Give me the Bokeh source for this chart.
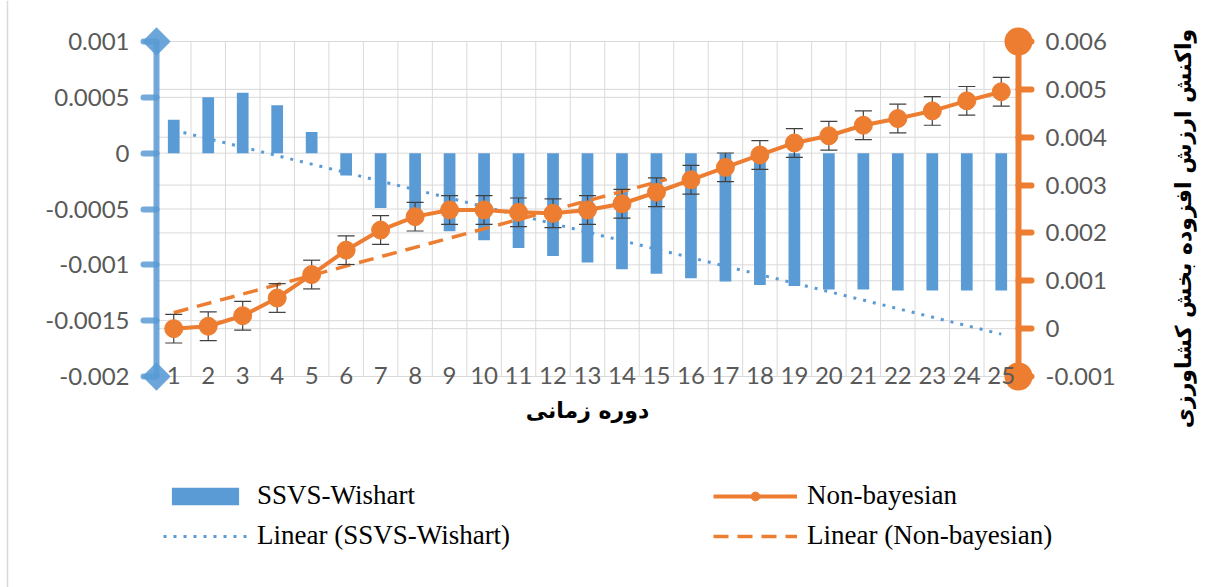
import numpy as np
from bokeh.plotting import figure
from bokeh.models import (Range1d, LinearAxis, FixedTicker, Label, Legend, LegendItem)
from bokeh.core.properties import value
from bokeh.embed import file_html
from bokeh.resources import INLINE

# ---------------- data ----------------
periods = list(range(1, 26))
period_labels = [str(i) for i in periods]

ssvs_wishart = [0.00030, 0.00050, 0.00054, 0.00043, 0.00019, -0.00020, -0.00049, -0.00060,
                -0.00070, -0.00078, -0.00085, -0.00092, -0.00098, -0.00104, -0.00108,
                -0.00112, -0.00115, -0.00118, -0.00119, -0.00122, -0.00122, -0.00123,
                -0.00123, -0.00123, -0.00123]

non_bayesian = [0.00000, 0.00005, 0.00027, 0.00064, 0.00113, 0.00164, 0.00206, 0.00234,
                0.00248, 0.00248, 0.00243, 0.00241, 0.00248, 0.00261, 0.00285, 0.00311,
                0.00337, 0.00363, 0.00388, 0.00403, 0.00425, 0.00439, 0.00455, 0.00476,
                0.00495]

non_bayesian_err = [0.0003, 0.0003, 0.0003, 0.0003, 0.0003, 0.0003, 0.0003, 0.0003,
                    0.0003, 0.0003, 0.0003, 0.0003, 0.0003, 0.0003, 0.0003, 0.0003,
                    0.0003, 0.0003, 0.0003, 0.0003, 0.0003, 0.0003, 0.0003, 0.0003,
                    0.0003]

left_ticks = [-0.002, -0.0015, -0.001, -0.0005, 0.0, 0.0005, 0.001]
left_tick_labels = ["-0.002", "-0.0015", "-0.001", "-0.0005", "0", "0.0005", "0.001"]
right_ticks = [-0.001, 0.0, 0.001, 0.002, 0.003, 0.004, 0.005, 0.006]
right_tick_labels = ["-0.001", "0", "0.001", "0.002", "0.003", "0.004", "0.005", "0.006"]

series_names = ["SSVS-Wishart", "Non-bayesian", "Linear (SSVS-Wishart)", "Linear (Non-bayesian)"]
x_title = "دوره زمانی"
y2_title = "واکنش ارزش افزوده بخش کشاورزی"

nb_trend_end = 15.3   # visible extent of the Non-bayesian trend line

# ---------------- layout (pixels) & style ----------------
W, H = 1227, 587
PL, PR, PT, PB = 156, 1018, 41, 376      # plot area edges
BLUE = "#5B9BD5"
ORANGE = "#ED7D31"
GRID = "#d9d9d9"
TXT = "#595959"

x0, x1 = periods[0] - 0.5, periods[-1] + 0.5
sx = (PR - PL) / (x1 - x0)
ly0, ly1 = left_ticks[0], left_ticks[-1]
sly = (PB - PT) / (ly1 - ly0)
ry0, ry1 = right_ticks[0], right_ticks[-1]
sry = (PB - PT) / (ry1 - ry0)

p = figure(width=W, height=H,
           x_range=Range1d(x0 - PL / sx, x1 + (W - PR) / sx),
           y_range=Range1d(ly0 - (H - PB) / sly, ly1 + PT / sly),
           x_axis_type=None, y_axis_type=None,
           output_backend="svg", toolbar_location=None,
           min_border=0, min_border_left=0, min_border_right=0,
           min_border_top=0, min_border_bottom=0)
p.extra_y_ranges = {"right": Range1d(ry0 - (H - PB) / sry, ry1 + PT / sry)}
p.outline_line_color = None
p.background_fill_color = "white"
p.border_fill_color = "white"
p.xgrid.visible = False
p.ygrid.visible = False

# outer left border of the chart
p.segment(x0=[x0 - (PL - 7) / sx], y0=[p.y_range.start], x1=[x0 - (PL - 7) / sx],
          y1=[p.y_range.end], line_color=GRID, line_width=1.5)

# gridlines
bounds = [x - 0.5 for x in periods] + [x1]
p.segment(x0=bounds, y0=[ly0] * len(bounds), x1=bounds, y1=[ly1] * len(bounds),
          line_color=GRID, line_width=1)
p.segment(x0=[x0] * len(left_ticks), y0=left_ticks, x1=[x1] * len(left_ticks), y1=left_ticks,
          line_color=GRID, line_width=1)
p.segment(x0=[x0] * len(right_ticks), y0=right_ticks, x1=[x1] * len(right_ticks),
          y1=right_ticks, line_color=GRID, line_width=1, y_range_name="right")

# axes
def style_axis(ax, color):
    ax.axis_line_color = color
    ax.axis_line_width = 6
    ax.major_tick_line_color = color
    ax.major_tick_line_width = 6
    ax.major_tick_line_cap = "round"
    ax.major_tick_out = 13
    ax.major_tick_in = 0
    ax.minor_tick_line_color = None
    ax.major_label_text_font = "Lato"
    ax.major_label_text_font_size = "24px"
    ax.major_label_text_color = TXT
    ax.major_label_standoff = 14

yl = LinearAxis(ticker=FixedTicker(ticks=left_ticks), fixed_location=x0, bounds=(ly0, ly1),
                major_label_overrides={t: s for t, s in zip(left_ticks, left_tick_labels)})
style_axis(yl, BLUE)
yl.axis_line_alpha = 0.85
yl.major_tick_line_alpha = 0.85
p.add_layout(yl, "left")

yr = LinearAxis(ticker=FixedTicker(ticks=right_ticks), y_range_name="right",
                fixed_location=x1, bounds=(ry0, ry1),
                major_label_overrides={t: s for t, s in zip(right_ticks, right_tick_labels)})
style_axis(yr, ORANGE)
p.add_layout(yr, "right")

# bars
r_bar = p.vbar(x=periods, top=ssvs_wishart, bottom=0, width=0.34,
               fill_color=BLUE, line_color=None)

# linear trend of SSVS-Wishart
c1 = np.polyfit(periods, ssvs_wishart, 1)
tx1 = [periods[0], periods[-1]]
r_tr1 = p.line(tx1, list(np.polyval(c1, tx1)), line_color=BLUE, line_width=3,
               line_dash="3 7")

# linear trend of Non-bayesian
c2 = np.polyfit(periods, non_bayesian, 1)
tx2 = [periods[0], nb_trend_end]
r_tr2 = p.line(tx2, list(np.polyval(c2, tx2)), line_color=ORANGE, line_width=3.5,
               line_dash="15 9", y_range_name="right")

# error bars
lo = [v - e for v, e in zip(non_bayesian, non_bayesian_err)]
hi = [v + e for v, e in zip(non_bayesian, non_bayesian_err)]
p.segment(x0=periods, y0=lo, x1=periods, y1=hi, line_color="#404040", line_width=1.2,
          y_range_name="right")
p.scatter(x=periods + periods, y=lo + hi, marker="dash", size=17, line_color="#404040",
          line_width=1.2, y_range_name="right")

# non-bayesian line + markers
r_line = p.line(periods, non_bayesian, line_color=ORANGE, line_width=4, y_range_name="right")
r_mark = p.scatter(periods, non_bayesian, size=18, fill_color=ORANGE, line_color=ORANGE,
                   y_range_name="right")

# axis end decorations
p.scatter(x=[x0] * 2, y=[ly0, ly1], marker="square", angle=np.pi / 4, size=20,
          fill_color=BLUE, line_color=None, fill_alpha=0.9)
p.scatter(x=[x1] * 2, y=[ry0, ry1], marker="circle", size=28, fill_color=ORANGE,
          line_color=None, y_range_name="right")

# category labels at the bottom of the plot area
p.text(x=periods, y=[ly0] * len(periods), text=period_labels,
       text_align="center", text_baseline="alphabetic", y_offset=-1,
       text_font=value("Lato"), text_font_size="24px", text_color=TXT)

# titles
p.add_layout(Label(x=(PL + PR) / 2, y=H - 410, x_units="screen", y_units="screen",
                   text=x_title, text_align="center", text_baseline="middle",
                   text_font="DejaVu Sans", text_font_style="bold", text_font_size="22px",
                   text_color="black"))
p.add_layout(Label(x=1183, y=H - 228, x_units="screen", y_units="screen", text=y2_title,
                   angle=np.pi / 2, text_align="center", text_baseline="middle",
                   text_font="DejaVu Sans", text_font_style="bold", text_font_size="22px",
                   text_color="black"))

# legend (filled column by column)
legend = Legend(items=[LegendItem(label=series_names[0], renderers=[r_bar]),
                       LegendItem(label=series_names[2], renderers=[r_tr1]),
                       LegendItem(label=series_names[1], renderers=[r_line, r_mark]),
                       LegendItem(label=series_names[3], renderers=[r_tr2])],
                ncols=2, location=(163, H - 551), margin=0, padding=0,
                glyph_width=84, glyph_height=22, label_standoff=10, label_width=447,
                spacing=9, label_text_font="Liberation Serif", label_text_font_size="27px",
                label_text_color="black", border_line_color=None, background_fill_alpha=0)
p.add_layout(legend)

open("out.html", "w").write(file_html(p, INLINE))
